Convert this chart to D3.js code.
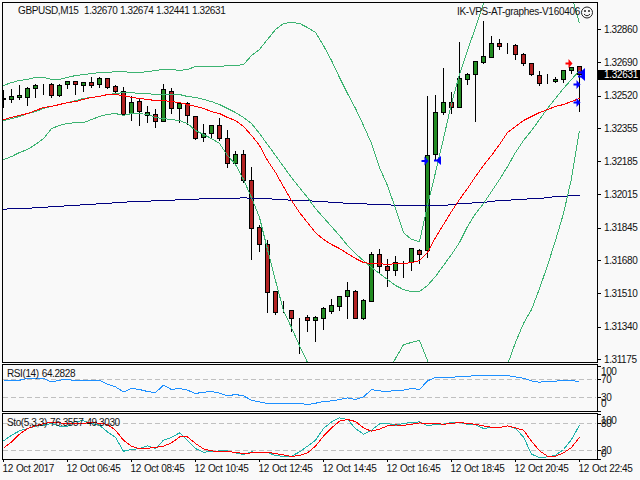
<!DOCTYPE html>
<html>
<head>
<meta charset="utf-8">
<script src="https://cdn.jsdelivr.net/npm/d3@7"></script>
<style>
  html, body { margin: 0; padding: 0; background: #f9f9f9; overflow: hidden; }
  svg { display: block; }
  text, .tick text { font-family: "Liberation Sans", Arial, sans-serif; font-size: 10px; fill: #111; letter-spacing: -0.4px; word-spacing: 0.7px; }
</style>
</head>
<body>
<svg id="chart" width="640" height="480"></svg>
<script>
// GBPUSD M15 terminal view. Prices are stored in points above 1.30000.
const open_ = [2503,2503,2513,2513,2559,2574,2579,2523,2579,2594,2574,2589,2579,2610,2569,2543,2431,2492,2421,2426,2390,2543,2457,2482,2416,2308,2329,2370,2303,2176,2222,2089,1849,1762,1522,1425,1425,1389,1389,1374,1384,1420,1446,1497,1522,1384,1471,1711,1650,1629,1665,1670,1731,1731,2222,2436,2487,2462,2605,2630,2691,2717,2788,2778,2778,2732,2686,2625,2594,2594,2605,2651,2670];
const high_ = [2554,2559,2579,2569,2584,2584,2589,2584,2600,2600,2594,2620,2620,2610,2579,2569,2523,2513,2472,2457,2584,2564,2487,2492,2416,2380,2370,2411,2349,2242,2247,2160,1864,1788,1522,1476,1425,1389,1405,1400,1446,1486,1497,1573,1532,1486,1726,1742,1691,1706,1680,1742,1742,2523,2528,2666,2543,2799,2640,2697,2906,2829,2814,2794,2788,2742,2686,2651,2635,2620,2656,2671,2674];
const low_ = [2462,2487,2503,2472,2513,2528,2513,2518,2559,2528,2543,2564,2564,2559,2538,2421,2395,2370,2385,2360,2390,2431,2385,2375,2298,2288,2303,2293,2155,2171,2079,1686,1726,1415,1405,1415,1318,1206,1318,1267,1328,1410,1425,1384,1384,1379,1471,1614,1548,1604,1594,1629,1665,1696,2196,2426,2431,2462,2579,2390,2686,2717,2758,2737,2707,2676,2625,2574,2584,2589,2589,2635,2441];
const close_ = [2508,2518,2523,2559,2574,2574,2523,2574,2594,2579,2589,2574,2610,2564,2543,2426,2487,2441,2436,2390,2554,2457,2482,2421,2303,2329,2370,2303,2176,2222,2089,1844,1762,1517,1415,1425,1384,1389,1374,1389,1435,1451,1497,1527,1384,1476,1711,1650,1629,1670,1665,1742,1711,2217,2436,2487,2462,2610,2630,2697,2722,2788,2773,2778,2732,2686,2630,2584,2594,2605,2651,2666,2631];

const bandUpper = [2574,2589,2600,2605,2615,2615,2605,2605,2615,2625,2630,2635,2640,2640,2645,2645,2640,2640,2645,2651,2656,2656,2651,2656,2671,2671,2671,2671,2676,2676,2681,2727,2758,2809,2860,2891,2896,2891,2870,2845,2778,2702,2615,2533,2457,2370,2278,2155,2063,1946,1823,1788,1777,1961,2130,2303,2482,2630,2753,2870,2993,3136,3238,3314,3365,3391,3391,3365,3314,3238,3151,3034,2891];
const bandMiddle = [2395,2405,2416,2431,2441,2457,2467,2477,2487,2497,2508,2513,2518,2528,2533,2538,2538,2533,2533,2528,2528,2528,2528,2518,2513,2503,2492,2477,2457,2436,2411,2380,2329,2273,2217,2160,2104,2053,2002,1946,1900,1854,1808,1757,1716,1680,1645,1614,1583,1553,1532,1522,1522,1553,1599,1655,1711,1772,1854,1920,1971,2033,2094,2160,2232,2293,2344,2400,2457,2508,2559,2605,2651];
const bandLower = [2196,2211,2232,2247,2273,2303,2354,2370,2380,2385,2385,2400,2416,2426,2431,2421,2431,2431,2426,2411,2405,2400,2395,2380,2344,2324,2303,2278,2217,2171,2094,2002,1900,1737,1578,1425,1338,1246,1160,1068,1006,976,966,955,955,966,991,1042,1103,1180,1251,1262,1272,1170,1042,940,863,838,838,863,915,991,1078,1149,1262,1359,1430,1537,1655,1783,1920,2099,2344];
const maFast = [2400,2411,2421,2431,2446,2462,2467,2477,2487,2492,2503,2513,2518,2528,2528,2523,2513,2508,2503,2497,2497,2492,2487,2477,2467,2457,2441,2431,2411,2395,2365,2319,2268,2191,2130,2058,1987,1926,1874,1823,1788,1762,1742,1716,1691,1670,1665,1665,1660,1665,1665,1670,1680,1721,1798,1864,1931,1992,2048,2109,2166,2217,2273,2334,2365,2395,2416,2436,2451,2467,2477,2492,2508];
const maSlow = [1941,1946,1946,1946,1951,1951,1956,1956,1961,1961,1966,1966,1971,1971,1977,1977,1982,1982,1982,1987,1987,1987,1992,1992,1992,1997,1997,1997,1997,1997,2002,1997,1997,1997,1992,1992,1987,1987,1987,1982,1982,1977,1977,1971,1971,1971,1966,1966,1966,1961,1961,1961,1961,1961,1961,1961,1966,1971,1971,1977,1977,1982,1987,1987,1992,1992,1997,1997,2002,2007,2007,2012,2012];

const rsi = [68.4,68.4,68.4,72.2,72.2,72.2,64.7,68.4,70.7,66.9,66.9,66.9,67.8,59.6,53.6,42.4,50,47.8,43.3,41.1,57.3,47.8,50,46.2,38.9,41.8,43.3,39.6,33.6,36.7,33.6,24,20.2,16.7,16.7,16.7,16.7,16.7,14.4,17.3,21.1,22.4,25.6,29.1,25.6,31.3,47.8,44.7,43.3,45.6,46.2,50,47.8,66.9,74.4,74.4,74.4,76.7,76.7,78.9,78.9,78.9,78.9,78.9,75.8,72.9,66.9,64,66.2,66.2,68.4,68.4,64.2828];
const stoMain = [41.3,54,63.6,68.9,74,76.2,80,74,74,85.1,85.8,80,76.2,61.3,48.9,18.4,22.2,24.4,30.2,24.4,42.9,48.9,59.1,42.9,24.4,16.2,17.8,19.1,19.1,14.7,11.1,16.9,15.6,15.6,8.9,6.7,7.3,16.9,29.6,42.9,68.9,83.6,92.4,88.9,68.9,56.2,65.1,79.1,80,76.2,80,82.2,83.6,74.7,78.4,78.4,82.2,82.2,78.4,76.9,68.9,71.1,71.1,74.7,68.9,50.2,11.8,4.4,5.8,9.6,22.2,44.4,76.3557];
const stoSignal = [25.1,39.1,56.2,68.9,74.7,80,82.2,81.3,80,80,80.7,82.2,80.7,77.8,65.1,42.9,29.6,23.6,25.1,26.7,29.6,36.9,50.2,50.2,35.6,23.6,19.1,17.8,17.8,15.6,13.3,14.7,15.6,15.6,13.3,10.2,6.7,8.9,14.7,29.6,51.8,70.2,85.1,88.9,84.4,70.2,62.9,67.3,74.7,76.9,75.6,78.4,81.3,80,80,78.4,80,82.2,80,78.4,74.7,71.8,71.1,74.7,70.2,65.1,40.7,19.1,7.3,7.3,14.7,26.7,49.303];

const priceTicks = [1.3286,1.3269,1.3252,1.32355,1.32185,1.32015,1.31845,1.3168,1.3151,1.3134,1.31175];
const timeBars = [0,8,16,24,32,40,48,56,64,72];
const timeLabels = ["12 Oct 2017","12 Oct 06:45","12 Oct 08:45","12 Oct 10:45","12 Oct 12:45","12 Oct 14:45","12 Oct 16:45","12 Oct 18:45","12 Oct 20:45","12 Oct 22:45"];

// Trade signal arrows: bar, price in points, direction, colour
const signalBars = [53,54,71,72,72,72,72];
const signalPrices = [2188,2191,2686,2640,2620,2579,2487];
const signalDirs = [1,-1,1,-1,-1,1,1];
const signalColors = ["#0000ff","#0000ff","#ff0000","#0000ff","#0000ff","#0000ff","#0000ff"];

const toPrice = v => 1.3 + v / 1e5;
const barCount = close_.length;
const bars = d3.range(barCount);

const svg = d3.select("#chart");
const x = d3.scaleLinear().domain([0, barCount - 1]).range([3, 579]);
const y = d3.scaleLinear().domain([1.31175, 1.3286]).range([359, 29]);
const yRsi = d3.scaleLinear().domain([30, 70]).range([397, 379]);
const ySto = d3.scaleLinear().domain([20, 80]).range([450, 423]);

// Clipping regions, one for each panel
const defs = svg.append("defs");
[["clipMain", 3, 3, 594, 359], ["clipRsi", 3, 365, 594, 46], ["clipSto", 3, 414, 594, 45]].forEach(([id, a, b, w, h]) => {
  defs.append("clipPath").attr("id", id).append("rect").attr("x", a).attr("y", b).attr("width", w).attr("height", h);
});

const crisp = g => g.attr("shape-rendering", "crispEdges");
const main = svg.append("g").attr("clip-path", "url(#clipMain)").append("g").attr("transform", "translate(.5,.5)").call(crisp);

// Candles
const candle = main.selectAll("g.candle").data(bars).join("g").attr("class", "candle");
candle.append("line")
  .attr("x1", i => x(i)).attr("x2", i => x(i))
  .attr("y1", i => Math.round(y(toPrice(high_[i]))))
  .attr("y2", i => Math.round(y(toPrice(low_[i]))))
  .attr("stroke", "#000");
candle.append("rect")
  .attr("x", i => x(i) - 2).attr("width", 4)
  .attr("y", i => Math.round(y(toPrice(Math.max(open_[i], close_[i])))))
  .attr("height", i => Math.round(y(toPrice(Math.min(open_[i], close_[i])))) - Math.round(y(toPrice(Math.max(open_[i], close_[i])))))
  .attr("fill", i => close_[i] > open_[i] ? "#228b22" : "#b22222")
  .attr("stroke", "#000");

// Bollinger bands and moving averages
const priceLine = d3.line().x((d, i) => x(i)).y(d => y(toPrice(d)));
[[maSlow, "#000080"], [bandUpper, "#3cb371"], [bandMiddle, "#3cb371"], [bandLower, "#3cb371"], [maFast, "#ff0000"]].forEach(([values, color]) => {
  main.append("path").attr("d", priceLine(values)).attr("fill", "none").attr("stroke", color).attr("stroke-width", 1);
});

// Signal arrows: buys end in a point at the bar, sells start at the bar with the head behind a stem
const arrowRight = "M0,0L-4,-4.5L-4,-1L-7,-1L-7,1L-4,1L-4,4.5Z";
const arrowLeft = "M-1,-1L2,-1L6,-4.5L6,4.5L2,1L-1,1Z";
const arrow = d3.range(signalBars.length);
svg.append("g").attr("clip-path", "url(#clipMain)").selectAll("path").data(arrow).join("path")
  .attr("transform", i => `translate(${x(signalBars[i]) + (signalDirs[i] > 0 ? 1.5 : 0)},${y(toPrice(signalPrices[i])) + .5})`)
  .attr("d", i => signalDirs[i] > 0 ? arrowRight : arrowLeft)
  .attr("fill", i => signalColors[i]);

// Right-hand price axis
const axisPrice = d3.axisRight(y).tickValues(priceTicks).tickFormat(d3.format(".5f")).tickSize(4).tickPadding(3);
svg.append("g").attr("transform", "translate(597,0)").call(axisPrice).call(g => g.select(".domain").remove())
  .call(crisp);

// Last price tag
const lastPrice = toPrice(close_[barCount - 1]);
svg.append("rect").attr("x", 598).attr("y", Math.round(y(lastPrice)) - 4).attr("width", 42).attr("height", 10).attr("fill", "#000");
svg.append("text").attr("x", 604).attr("y", Math.round(y(lastPrice)) + 4).text(d3.format(".5f")(lastPrice)).style("fill", "#fff").style("letter-spacing", "-0.3px");

// Header texts
const header = svg.append("text").attr("y", 14);
[["GBPUSD,M15", 18], ["1.32670", 84], ["1.32674", 120], ["1.32441", 156], ["1.32631", 192]].forEach(([t, px]) => {
  header.append("tspan").attr("x", px).text(t);
});
svg.append("text").attr("x", 457).attr("y", 15).style("letter-spacing", "-0.3px").text("IK-VPS-AT-graphes-V160406");

// Smiley mark next to the expert name
const smile = svg.append("g").attr("transform", "translate(587,12.5)").attr("fill", "none").attr("stroke", "#222");
smile.append("circle").attr("r", 5.5);
smile.append("path").attr("d", "M-3,1.5Q0,5 3,1.5");
smile.append("circle").attr("cx", -2).attr("cy", -1.5).attr("r", .6).attr("fill", "#222");
smile.append("circle").attr("cx", 2).attr("cy", -1.5).attr("r", .6).attr("fill", "#222");

// RSI panel
const panelLine = (scale) => d3.line().x((d, i) => x(i)).y(d => scale(d));
const rsiG = svg.append("g").attr("clip-path", "url(#clipRsi)").append("g").attr("transform", "translate(.5,.5)").call(crisp);
[70, 30].forEach(level => {
  rsiG.append("line").attr("x1", 2).attr("x2", 595).attr("y1", yRsi(level)).attr("y2", yRsi(level))
    .attr("stroke", "#c0c0c0").attr("stroke-dasharray", "5,3");
});
rsiG.append("path").attr("d", panelLine(yRsi)(rsi)).attr("fill", "none").attr("stroke", "#1e90ff");
svg.append("text").attr("x", 7).attr("y", 377).text("RSI(14) 64.2828");

// Stochastic panel
const stoG = svg.append("g").attr("clip-path", "url(#clipSto)").append("g").attr("transform", "translate(.5,.5)").call(crisp);
[80, 20].forEach(level => {
  stoG.append("line").attr("x1", 2).attr("x2", 595).attr("y1", ySto(level)).attr("y2", ySto(level))
    .attr("stroke", "#c0c0c0").attr("stroke-dasharray", "5,3");
});
stoG.append("path").attr("d", panelLine(ySto)(stoMain)).attr("fill", "none").attr("stroke", "#20b2aa");
stoG.append("path").attr("d", panelLine(ySto)(stoSignal)).attr("fill", "none").attr("stroke", "#ff0000");
svg.append("text").attr("x", 7).attr("y", 426).text("Sto(5,3,3) 76.3557 49.3030");

// Panel frames
[[2, 360], [364, 47], [413, 46]].forEach(([top, h]) => {
  svg.append("rect").attr("x", 2.5).attr("y", top + .5).attr("width", 595).attr("height", h)
    .attr("fill", "none").attr("stroke", "#000").call(crisp);
});

// Indicator scales
const sideTicks = (g, scale, entries) => entries.forEach(([value, offset]) => {
  const py = scale(value);
  g.append("line").attr("x1", 598).attr("x2", 601).attr("y1", Math.round(py) + .5).attr("y2", Math.round(py) + .5).attr("stroke", "#000");
  g.append("text").attr("x", 601).attr("y", py + offset + 3.5).text(value);
});
const scaleG = svg.append("g").call(crisp);
sideTicks(scaleG, yRsi, [[100, 6], [70, 0], [30, 0], [0, -7]]);
sideTicks(scaleG, ySto, [[100, 6], [80, 0], [20, 0], [0, -6]]);

// Time axis
const axisTime = d3.axisBottom(x).tickValues(timeBars).tickFormat((d, i) => timeLabels[i]).tickSize(3).tickPadding(3);
svg.append("g").attr("transform", "translate(0,459)").call(axisTime).call(g => g.select(".domain").remove())
  .call(g => g.selectAll("text").attr("text-anchor", "start").attr("x", -1))
  .call(crisp);
</script>
</body>
</html>
